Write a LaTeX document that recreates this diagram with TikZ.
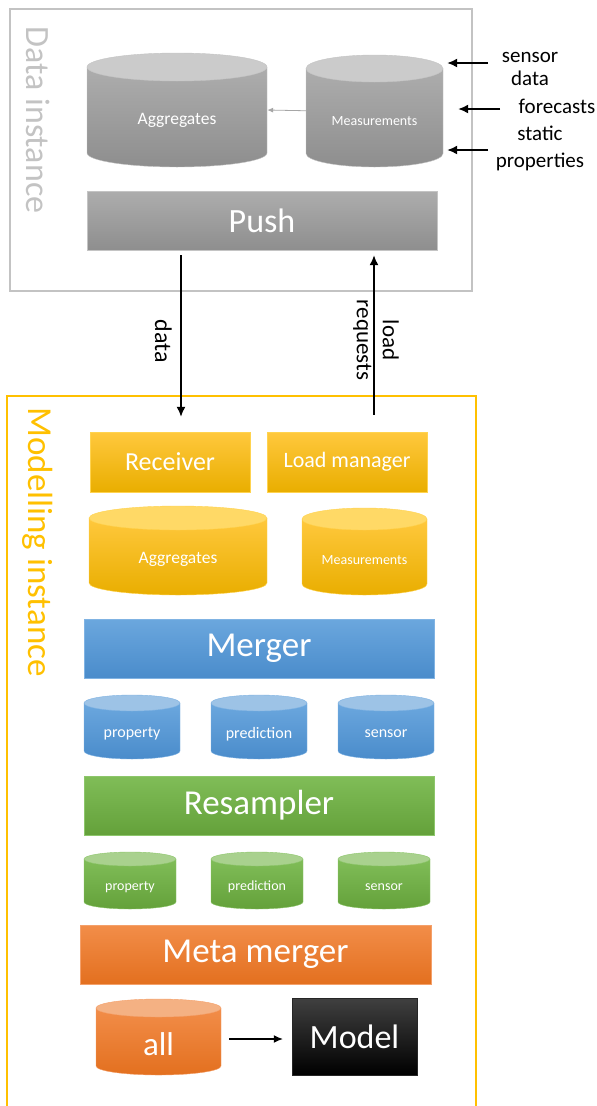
\documentclass[tikz,border=0pt]{standalone}
\usepackage{fontspec}
\setmainfont{Carlito}
\usepackage{xcolor}
\usepackage{tikz}
\usetikzlibrary{arrows.meta,positioning}

\definecolor{graytop}{HTML}{ADADAD}\definecolor{graybot}{HTML}{8E8E8E}\definecolor{grayend}{HTML}{CBCBCB}\definecolor{grayline}{HTML}{C4C4C4}
\definecolor{goldtop}{HTML}{FFC83D}\definecolor{goldbot}{HTML}{E9AE00}\definecolor{goldend}{HTML}{FFD966}\definecolor{goldline}{HTML}{FFD34F}
\definecolor{bluetop}{HTML}{6BA7DE}\definecolor{bluebot}{HTML}{4A8CCB}\definecolor{blueend}{HTML}{9DC3E6}\definecolor{blueline}{HTML}{80B3E3}
\definecolor{greentop}{HTML}{80BD58}\definecolor{greenbot}{HTML}{64A13A}\definecolor{greenend}{HTML}{A9D18E}\definecolor{greenline}{HTML}{8DC66B}
\definecolor{orangetop}{HTML}{F28D49}\definecolor{orangebot}{HTML}{E3701F}\definecolor{orangeend}{HTML}{F4B183}\definecolor{orangeline}{HTML}{F4A06A}
\definecolor{modeltop}{HTML}{404040}\definecolor{modelbot}{HTML}{000000}\definecolor{modelline}{HTML}{262626}
\definecolor{dframe}{HTML}{C3C3C3}\definecolor{mframe}{HTML}{FFC000}\definecolor{arrgray}{HTML}{A6A6A6}

\newcommand{\fsz}[1]{\fontsize{#1}{#1}\selectfont}
\newcommand{\dbcyl}[9]{%
  \shade[top color=#7top, bottom color=#7bot, draw=#7line] ({#2},{#3+#6}) -- ({#2},{#5-#6}) arc[start angle=180, end angle=0, x radius={(#4-#2)/2}, y radius={#6}] -- ({#4},{#3+#6}) -- cycle;
  \filldraw[fill=#7end, draw=#7line] ({(#2+#4)/2},{#3+#6}) ellipse[x radius={(#4-#2)/2}, y radius={#6}];
  \node[text=white, font=\fsz{#8}, minimum width={#4-#2}, inner sep=0pt] (#1) at ({(#2+#4)/2},{(#3+#5+#6)/2+3}) {#9};
}

\begin{document}
\begin{tikzpicture}[x=1pt, y=-1pt, box/.style={draw=#1line, top color=#1top, bottom color=#1bot, text=white, minimum height=59pt, inner sep=0pt}, lbl/.style={align=center, text=black}, arr/.style={-{Latex[length=10pt,width=9pt]}, line width=1.6pt}, arrthin/.style={-{Latex[length=9pt,width=8pt]}, line width=1.2pt}, garr/.style={-{Latex[length=6pt,width=5pt]}, draw=arrgray, line width=0.8pt}]
\useasboundingbox (0,0) rectangle (597,1106);
\draw[dframe, line width=1.5pt] (10,9) rectangle (472,291);
\draw[mframe, line width=1.5pt] (7,396) rectangle (476,1130);
\node[rotate=-90, anchor=base, text=dframe, font=\fsz{34}] (datatitle) at (27,120) {Data instance};
\node[rotate=-90, anchor=base, text=mframe, font=\fsz{35}] (modtitle) at (28,542) {Modelling instance};

\dbcyl{gagg}{87}{53}{267}{167}{14}{gray}{17.5}{Aggregates}
\dbcyl{gmeas}{306}{55}{443}{167}{13.5}{gray}{14}{Measurements}
\node[box=gray, minimum width=350pt, font=\fsz{34}] (push) at (262,220.5) {Push};

\node[box=gold, minimum width=160pt, minimum height=60pt, font=\fsz{26}] (recv) at (170,462) {Receiver};
\node[box=gold, minimum width=160pt, minimum height=60pt, font=\fsz{22}] (loadm) at (347,462) {Load manager};
\dbcyl{yagg}{89}{506}{267}{595}{12}{gold}{17.5}{Aggregates}
\dbcyl{ymeas}{302}{508}{427}{595}{11}{gold}{14}{Measurements}

\node[box=blue, minimum width=350pt, font=\fsz{35}] (merger) at (259,648.5) {Merger};
\dbcyl{bprop}{84}{695}{180}{759}{8}{blue}{16}{property}
\dbcyl{bpred}{211}{695}{307}{759}{8}{blue}{16}{prediction}
\dbcyl{bsens}{338}{695}{434}{759}{8}{blue}{16}{sensor}

\node[box=green, minimum width=350pt, font=\fsz{35}] (resamp) at (259,805.5) {Resampler};
\dbcyl{gprop}{84}{852}{176}{909}{7}{green}{14}{property}
\dbcyl{gpred}{211}{852}{303}{909}{7}{green}{14}{prediction}
\dbcyl{gsens}{338}{852}{430}{909}{7}{green}{14}{sensor}

\node[box=orange, minimum width=351pt, font=\fsz{35}] (meta) at (255.5,954.5) {Meta merger};
\dbcyl{all}{96}{999}{221}{1075}{9}{orange}{33}{all}
\node[box=model, minimum width=125pt, minimum height=77pt, font=\fsz{34}] (model) at (354.5,1036.5) {Model};

\coordinate (srcsens) at (488,63); \coordinate (srcfore) at (500,109); \coordinate (srcstat) at (488,150);
\node[lbl, anchor=base, font={\fontsize{21}{23}\selectfont}] (sensorlbl) at (530,85) {sensor\\data};
\node[lbl, anchor=base, font=\fsz{21}] (forelbl) at (557,113) {forecasts};
\node[lbl, anchor=base, font={\fontsize{21}{27}\selectfont}] (staticlbl) at (540,167) {static\\properties};
\node[lbl, rotate=-90, anchor=base, font=\fsz{24}] (datalbl) at (155,341) {data};
\node[lbl, rotate=-90, font={\fontsize{23}{26}\selectfont}] (loadlbl) at (376,340) {load\\requests};

\draw[garr] ([yshift=10pt]gmeas.west) -- ([yshift=10pt]gagg.east);
\draw[arr, shorten >=4pt] (srcsens) -- (srcsens -| gmeas.east); \draw[arr, shorten >=15pt] (srcfore) -- (srcfore -| gmeas.east); \draw[arr, shorten >=4pt] (srcstat) -- (srcstat -| gmeas.east);
\draw[arr, shorten <=5pt, shorten >=15pt] ([xshift=11pt]recv.north |- push.south) -- ([xshift=11pt]recv.north);
\draw[arr, shorten <=17pt, shorten >=5pt] ([xshift=27pt]loadm.north) -- ([xshift=27pt]loadm.north |- push.south);
\draw[arrthin, shorten <=8pt, shorten >=9pt] ([yshift=5.5pt]all.east) -- ([yshift=-2.5pt]model.west);
\end{tikzpicture}
\end{document}
